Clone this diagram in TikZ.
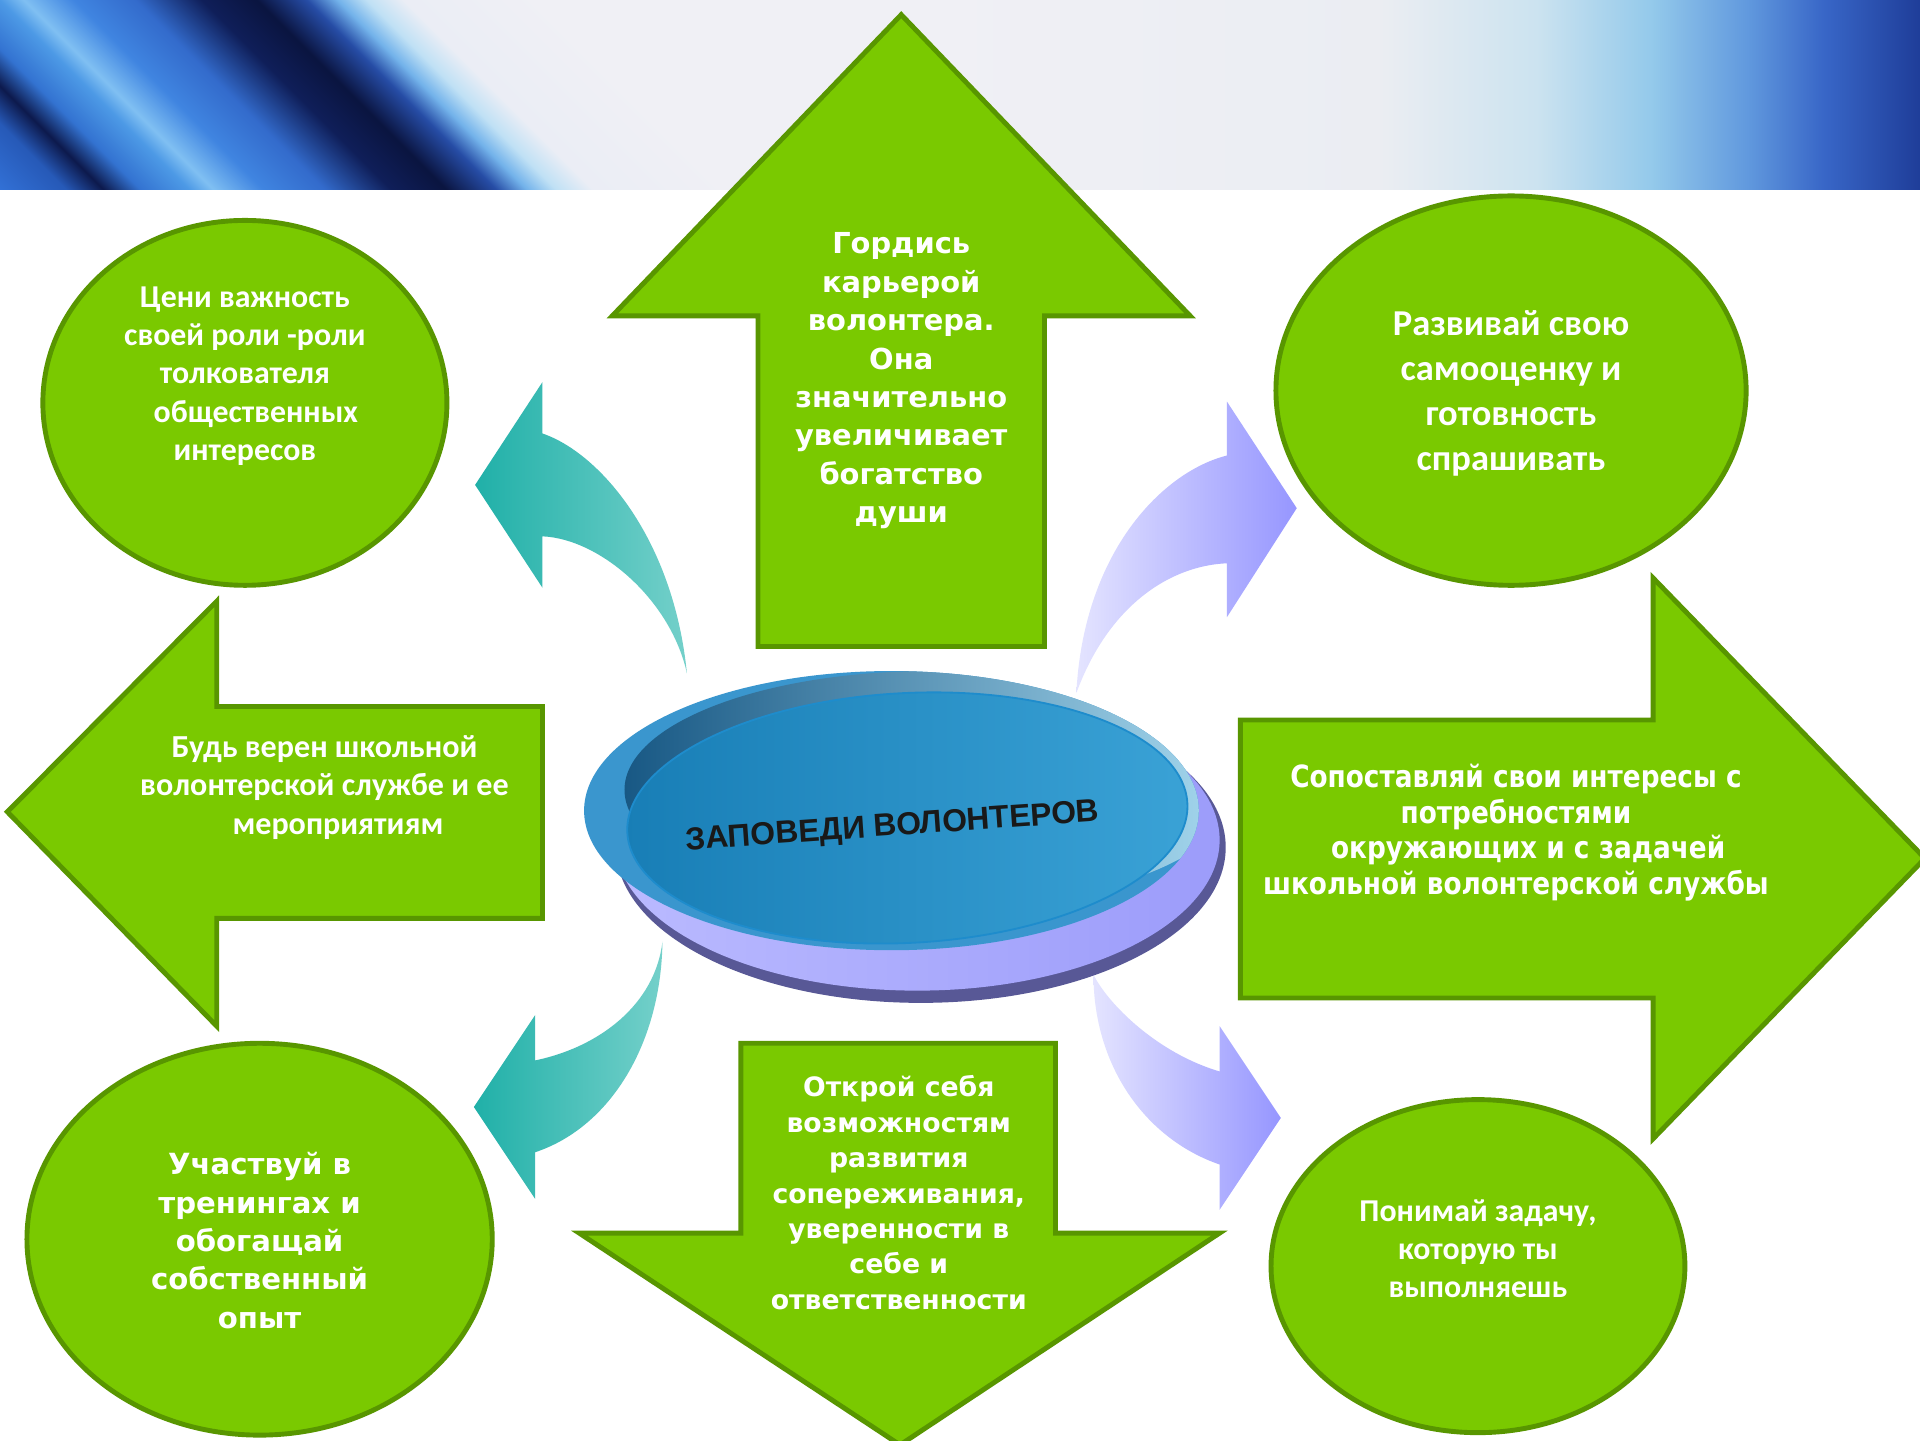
\documentclass[tikz,border=0pt]{standalone}
\usepackage{fontspec}
\newfontfamily\fcal{Carlito}
\newfontfamily\fver{DejaVu Sans}
\newfontfamily\fcond{DejaVu Sans}[FakeStretch=0.86]
\newfontfamily\farial{Liberation Sans}
\definecolor{gfill}{RGB}{122,201,0}
\definecolor{gline}{RGB}{88,150,0}
\definecolor{tealD}{RGB}{32,176,168}
\definecolor{tealL}{RGB}{116,208,202}
\definecolor{purL}{RGB}{228,228,255}
\definecolor{purD}{RGB}{150,150,255}
\definecolor{discdark}{RGB}{88,88,150}
\definecolor{lavL}{RGB}{186,186,255}
\definecolor{lavR}{RGB}{156,156,250}
\definecolor{outerbase}{RGB}{58,150,206}
\definecolor{outerdk}{RGB}{24,88,132}
\definecolor{outermid}{RGB}{40,132,190}
\definecolor{outerlt}{RGB}{168,218,240}
\definecolor{innerL}{RGB}{24,126,182}
\definecolor{innerR}{RGB}{58,162,214}
\definecolor{innerrim}{RGB}{30,140,204}
\pgfdeclarehorizontalshading{rightsh}{100bp}{rgb(0bp)=(0.94,0.94,0.96); rgb(25bp)=(0.94,0.94,0.96); rgb(50bp)=(0.94,0.94,0.96); rgb(61bp)=(0.92,0.93,0.95); rgb(65bp)=(0.80,0.89,0.94); rgb(68bp)=(0.58,0.79,0.92); rgb(70.5bp)=(0.38,0.60,0.87); rgb(72.5bp)=(0.22,0.40,0.78); rgb(75bp)=(0.12,0.24,0.60); rgb(100bp)=(0.12,0.24,0.60)}
\pgfdeclarehorizontalshading{leftsh}{100bp}{rgb(0bp)=(0.2,0.45,0.85); rgb(25bp)=(0.2,0.45,0.85); rgb(29.5bp)=(0.15,0.35,0.72); rgb(31.8bp)=(0.05,0.10,0.30); rgb(34.1bp)=(0.2,0.45,0.82); rgb(37.1bp)=(0.3,0.6,0.9); rgb(38.6bp)=(0.5,0.75,0.95); rgb(41.7bp)=(0.25,0.52,0.88); rgb(45.5bp)=(0.2,0.42,0.8); rgb(49.6bp)=(0.06,0.12,0.35); rgb(53bp)=(0.04,0.08,0.25); rgb(56.1bp)=(0.15,0.3,0.65); rgb(58bp)=(0.45,0.7,0.92); rgb(59.8bp)=(0.75,0.88,0.96); rgb(62.1bp)=(0.92,0.93,0.96); rgb(70bp)=(0.94,0.94,0.96); rgb(75bp)=(0.94,0.94,0.96); rgb(100bp)=(0.94,0.94,0.96)}
\begin{document}
\begin{tikzpicture}[x=1pt,y=-1pt,
  greenshape/.style={fill=gfill, draw=gline, line width=4pt, line join=miter},
  txt/.style={text=white, align=center, inner sep=0pt},
  tealarrow/.style={left color=tealD, right color=tealL},
  purarrow/.style={left color=purL, right color=purD}]
\useasboundingbox (0,0) rectangle (1568,1176);
\fill[white] (0,0) rectangle (1568,1176);
% banner
\begin{scope}
  \clip (0,0) rectangle (1568,155);
  \shade[shading=rightsh] (0,0) rectangle (1568,155);
  \begin{scope}[transform canvas={xslant=-1.0}]
    \shade[shading=leftsh] (-160,0) rectangle (500,155);
  \end{scope}
\end{scope}
% green block arrows
\draw[greenshape] (736,12) -- (972,258) -- (853,258) -- (853,528) -- (619,528) -- (619,258) -- (500,258) -- cycle;
\draw[greenshape] (6,663) -- (177,491) -- (177,577) -- (443,577) -- (443,750) -- (177,750) -- (177,838) -- cycle;
\draw[greenshape] (1013,588) -- (1350,588) -- (1350,472) -- (1572,701) -- (1350,930) -- (1350,815) -- (1013,815) -- cycle;
\draw[greenshape] (605,852) -- (862,852) -- (862,1007) -- (996,1007) -- (735,1180) -- (473,1007) -- (605,1007) -- cycle;
% green circles
\draw[greenshape] (200,329) ellipse [x radius=165, y radius=149];
\draw[greenshape] (1234,319) ellipse [x radius=192, y radius=159];
\draw[greenshape] (212,1012) ellipse [x radius=190, y radius=160];
\draw[greenshape] (1207,1034) ellipse [x radius=169, y radius=136];
% curved arrows
\shade[tealarrow] (388,396) -- (443,312) -- (443,354) .. controls (490,370) and (550,440) .. (561,550) .. controls (548,490) and (490,440) .. (443,438) -- (443,480) -- cycle;
\shade[purarrow] (1059,415) -- (1002,328) -- (1002,372) .. controls (950,385) and (885,450) .. (879,566) .. controls (905,495) and (955,462) .. (1002,460) -- (1002,504) -- cycle;
\shade[tealarrow] (387,904) -- (437,829) -- (437,866) .. controls (490,855) and (535,820) .. (541,769) .. controls (540,850) and (500,920) .. (437,941) -- (437,979) -- cycle;
\shade[purarrow] (1046,913) -- (996,838) -- (996,875) .. controls (945,860) and (905,820) .. (893,796) .. controls (893,870) and (935,930) .. (996,951) -- (996,988) -- cycle;
% central disc
\fill[discdark] (752,692) ellipse [x radius=249, y radius=127];
\shade[left color=lavL, right color=lavR] (749,686) ellipse [x radius=247, y radius=123];
\fill[outerbase] (728,662) ellipse [x radius=251, y radius=114];
\begin{scope}
  \clip (728,662) ellipse [x radius=251, y radius=114];
  \shade[left color=outerdk, middle color=outermid, right color=outerlt] (760,645) ellipse [x radius=250, y radius=97];
\end{scope}
\shade[left color=innerL, right color=innerR, rotate around={3:(741,668)}] (741,668) ellipse [x radius=229, y radius=102];
\draw[innerrim, line width=1.5pt, rotate around={3:(741,668)}] (741,668) ellipse [x radius=229, y radius=102];
\node[inner sep=0pt, rotate=4, text=black!90, font=\farial\bfseries\fontsize{26}{30}\selectfont] (title) at (729,676) {ЗАПОВЕДИ ВОЛОНТЕРОВ};
% texts
\node[txt, font=\fcal\bfseries\fontsize{26}{31.3}\selectfont] (tl) at (200,307) {Цени важность\\своей роли -роли\\толкователя\\\hspace*{18pt}общественных\\интересов};
\node[txt, font=\fver\bfseries\fontsize{23.6}{31.4}\selectfont] (up) at (736,311) {Гордись\\карьерой\\волонтера.\\Она\\значительно\\увеличивает\\богатство\\души};
\node[txt, font=\fcal\bfseries\fontsize{29.8}{36.7}\selectfont] (tr) at (1234,321) {Развивай свою\\самооценку и\\готовность\\спрашивать};
\node[txt, font=\fcal\bfseries\fontsize{26.2}{31.5}\selectfont] (lf) at (265,643) {Будь верен школьной\\волонтерской службе и ее\\\hspace*{22pt}мероприятиям};
\node[txt, font=\fcond\bfseries\fontsize{25}{29}\selectfont] (rt) at (1238,680) {Сопоставляй свои интересы с\\потребностями\\\hspace*{20pt}окружающих и с задачей\\школьной волонтерской службы};
\node[txt, font=\fver\bfseries\fontsize{23.8}{31.3}\selectfont] (bl) at (212,1013) {Участвуй в\\тренингах и\\обогащай\\собственный\\опыт};
\node[txt, font=\fver\bfseries\fontsize{21.8}{28.9}\selectfont] (dn) at (734,974) {Открой себя\\возможностям\\развития\\сопереживания,\\уверенности в\\себе и\\ответственности};
\node[txt, font=\fcal\bfseries\fontsize{26}{31}\selectfont] (br) at (1207,1020) {Понимай задачу,\\которую ты\\выполняешь};
\end{tikzpicture}
\end{document}
